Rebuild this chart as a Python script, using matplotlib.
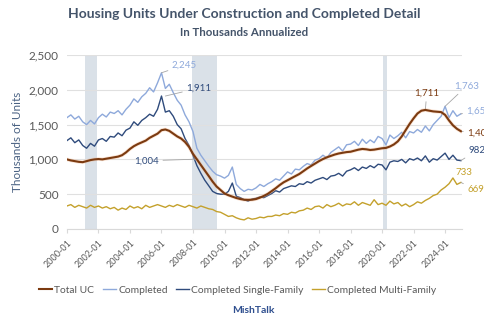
import matplotlib
matplotlib.use('Agg')
import matplotlib.pyplot as plt
import matplotlib.dates as mdates
import pandas as pd

plt.rcParams['font.family'] = ['Lato', 'DejaVu Sans']

# quarterly readings, 2000Q1 .. 2024Q4, plus the last month (2025-01)
total_uc = [
    1000, 985, 975, 965,   960, 975, 990, 1000,   1005, 1000, 1010, 1020,
    1030, 1040, 1060, 1100,   1150, 1190, 1220, 1245,   1270, 1310, 1340, 1370,
    1420, 1430, 1410, 1370,   1330, 1300, 1250, 1180,   1080, 1000, 920, 840,
    760, 680, 610, 560,   510, 485, 465, 445,   430, 420, 418, 420,
    430, 450, 475, 505,   545, 585, 630, 670,   700, 730, 760, 790,
    830, 870, 905, 940,   975, 1005, 1030, 1050,   1070, 1085, 1095, 1105,
    1110, 1125, 1140, 1150,   1145, 1135, 1140, 1150,   1160, 1165, 1185, 1215,
    1260, 1330, 1420, 1510,   1590, 1660, 1700, 1711,   1700, 1690, 1685, 1680,
    1640, 1560, 1490, 1440,   1405,
]
completed = [
    1600, 1640, 1580, 1620,   1540, 1500, 1560, 1510,   1600, 1650, 1610, 1680,
    1660, 1700, 1640, 1720,   1780, 1870, 1820, 1900,   1950, 2030, 1970, 2100,
    2245, 2020, 2080, 1960,   1850, 1780, 1640, 1540,   1400, 1160, 1060, 980,
    900, 830, 780, 760,   730, 770, 890, 640,   580, 540, 570, 560,
    590, 640, 610, 650,   680, 720, 700, 760,   820, 790, 860, 850,
    900, 940, 920, 990,   1010, 1060, 1020, 1100,   1140, 1180, 1120, 1210,
    1220, 1260, 1200, 1290,   1230, 1280, 1240, 1330,   1300, 1210, 1350, 1300,
    1340, 1390, 1310, 1400,   1380, 1430, 1390, 1480,   1410, 1500, 1560, 1620,
    1763, 1600, 1700, 1620,   1655,
]
single_family = [
    1270, 1310, 1240, 1280,   1200, 1160, 1230, 1190,   1280, 1300, 1260, 1330,
    1320, 1380, 1340, 1420,   1450, 1540, 1490, 1560,   1600, 1650, 1620, 1720,
    1911, 1680, 1700, 1620,   1500, 1440, 1300, 1200,   1060, 910, 800, 700,
    620, 540, 510, 500,   500, 540, 660, 470,   450, 420, 400, 430,
    440, 460, 450, 480,   510, 550, 530, 580,   600, 620, 610, 650,
    640, 680, 660, 700,   720, 740, 710, 760,   770, 800, 760, 830,
    850, 880, 840, 890,   870, 910, 880, 930,   920, 850, 960, 980,
    970, 1000, 950, 1010,   990, 1020, 980, 1050,   960, 1010, 990, 1040,
    1090, 1000, 1060, 990,   982,
]
multi_family = [
    330, 350, 310, 340,   320, 300, 340, 310,   330, 300, 320, 290,
    310, 270, 300, 280,   330, 300, 320, 290,   340, 310, 330, 350,
    330, 310, 340, 320,   350, 330, 310, 340,   320, 300, 330, 310,
    290, 280, 250, 240,   210, 180, 190, 160,   140, 130, 160, 140,
    150, 170, 160, 180,   180, 200, 190, 220,   210, 240, 230, 260,
    270, 300, 280, 320,   330, 300, 350, 320,   340, 370, 330, 360,
    350, 390, 340, 380,   360, 340, 420, 350,   370, 340, 400, 360,
    380, 330, 360, 320,   350, 390, 370, 410,   440, 480, 500, 560,
    600, 650, 733, 640,   669,
]
dates = pd.date_range('2000-01-01', '2025-01-01', freq='QS')

recessions = [('2001-03-01', '2001-11-30'), ('2007-12-01', '2009-06-30'), ('2020-02-01', '2020-04-30')]

c_uc = '#7B3A10'
c_comp = '#8EA9DB'
c_sf = '#2F4B7C'
c_mf = '#C4A12C'
c_text = '#595959'

fig = plt.figure(figsize=(4.85, 3.22), dpi=100)
ax = fig.add_axes([0.138, 0.289, 0.815, 0.54])

for a, b in recessions:
    ax.axvspan(pd.Timestamp(a), pd.Timestamp(b), color='#DAE1E8', lw=0, zorder=0)

ax.plot(dates, completed, color=c_comp, lw=1.0, label='Completed', zorder=2)
ax.plot(dates, single_family, color=c_sf, lw=1.0, label='Completed Single-Family', zorder=2)
ax.plot(dates, multi_family, color=c_mf, lw=1.0, label='Completed Multi-Family', zorder=2)
ax.plot(dates, total_uc, color='#F4B183', lw=2.6, alpha=0.35, zorder=3)
ax.plot(dates, total_uc, color=c_uc, lw=1.5, label='Total UC', zorder=4)

ax.set_ylim(0, 2500)
ax.set_yticks(range(0, 2501, 500))
ax.yaxis.set_major_formatter(matplotlib.ticker.FuncFormatter(lambda v, p: f'{int(v):,}'))
ax.set_xlim(pd.Timestamp('2000-01-01'), pd.Timestamp('2025-02-01'))
ax.set_xticks([pd.Timestamp(f'{y}-01-01') for y in range(2000, 2025, 2)])
ax.xaxis.set_major_formatter(mdates.DateFormatter('%Y-%m'))
ax.grid(axis='y', color='#E0E0E0', lw=0.8)
ax.set_axisbelow(True)
for s in ['top', 'right', 'left']:
    ax.spines[s].set_visible(False)
ax.spines['bottom'].set_color('#D9D9D9')
ax.tick_params(axis='y', length=0, labelsize=8.5, colors=c_text, pad=6)
ax.tick_params(axis='x', length=3, color='#D9D9D9', labelsize=6.5, colors=c_text)
plt.setp(ax.get_xticklabels(), rotation=45, ha='right', rotation_mode='anchor')
ax.set_ylabel('Thousands of Units', fontsize=8.5, color='#4A6283', labelpad=4)

def note(text, xy, xyt, color, ha='left'):
    ax.annotate(text, xy=(pd.Timestamp(xy[0]), xy[1]), xytext=(pd.Timestamp(xyt[0]), xyt[1]),
                fontsize=7, color=color, ha=ha, va='center', annotation_clip=False,
                arrowprops=dict(arrowstyle='-', color='#A6A6A6', lw=0.6, shrinkA=1, shrinkB=0))

note('2,245', ('2006-01-01', 2245), ('2006-09-01', 2357), c_comp)
note('1,911', ('2006-04-01', 1911), ('2007-08-01', 2026), c_sf)
note('1,004', ('2008-05-01', 1004), ('2005-11-01', 980), c_sf, ha='right')
note('1,711', ('2022-10-01', 1711), ('2022-11-01', 1954), c_uc, ha='center')
note('1,763', ('2024-01-01', 1763), ('2024-08-01', 2055), c_comp)
note('1,655', ('2025-01-01', 1655), ('2025-05-15', 1696), c_comp)
note('1,405', ('2025-01-01', 1405), ('2025-06-01', 1380), c_uc)
note('982', ('2025-01-01', 982), ('2025-07-01', 1135), c_sf)
note('669', ('2025-01-01', 669), ('2025-06-01', 560), c_mf)
ax.text(pd.Timestamp('2024-09-01'), 805, '733', fontsize=7, color=c_mf, va='center')

fig.text(0.503, 0.955, 'Housing Units Under Construction and Completed Detail',
         ha='center', va='center', fontsize=10, fontweight='bold', color='#44546A')
fig.text(0.503, 0.90, 'In Thousands Annualized',
         ha='center', va='center', fontsize=8.3, fontweight='bold', color='#44546A')

handles, labels = ax.get_legend_handles_labels()
order = [3, 0, 1, 2]
fig.legend([handles[i] for i in order], [labels[i] for i in order], loc='center',
           bbox_to_anchor=(0.49, 0.098), ncol=4, frameon=False, fontsize=7.4,
           handlelength=1.3, handletextpad=0.2, columnspacing=0.8, labelcolor=c_text)
fig.text(0.522, 0.037, 'MishTalk', ha='center', va='center', fontsize=7.5,
         fontweight='bold', color='#2F4F8F')

fig.savefig('out.png', dpi=100)
